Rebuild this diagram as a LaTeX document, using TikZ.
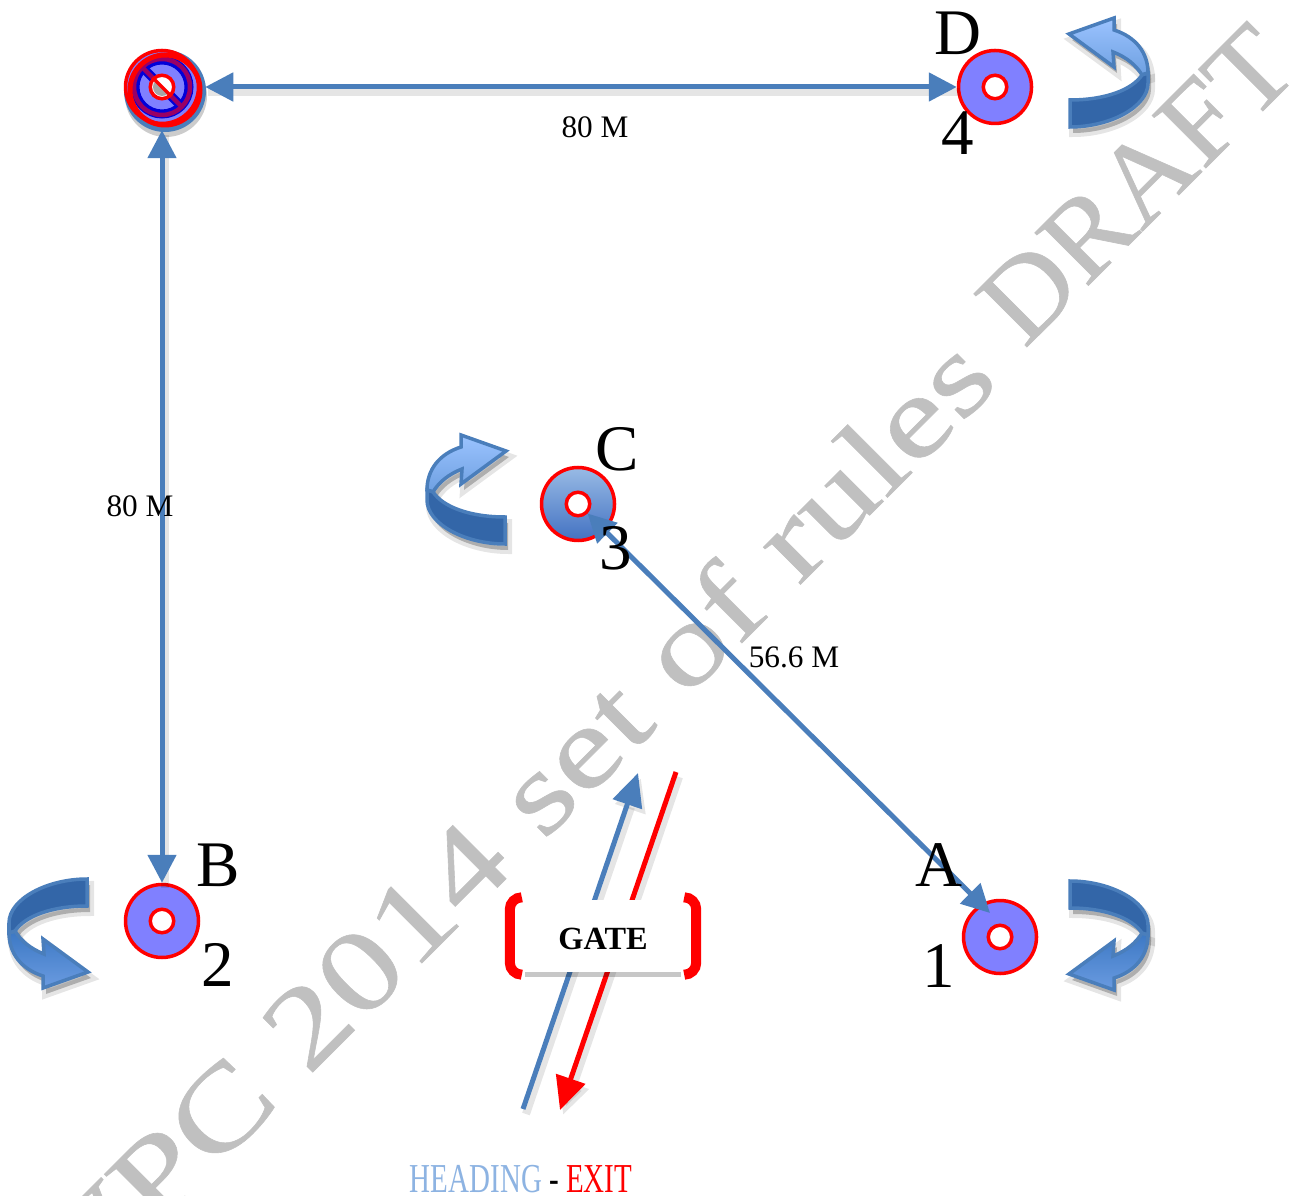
\documentclass[tikz,border=0pt]{standalone}
\usepackage{fontspec}
\setmainfont{Liberation Serif}
\newfontfamily\markfont[FakeStretch=1.285, FakeBold=0.5]{Liberation Serif}
\newfontfamily\markcaps[FakeStretch=1.04, FakeBold=0.5]{Liberation Serif}
\usepackage{tikz}
\usetikzlibrary{arrows.meta, positioning, calc}
\definecolor{linkblue}{RGB}{74, 126, 187}
\definecolor{discblue}{RGB}{128, 128, 255}
\definecolor{darkband}{RGB}{51, 102, 168}
\definecolor{headcol}{RGB}{141, 179, 226}
\definecolor{waterg}{RGB}{192, 192, 192}
\definecolor{bandhi}{RGB}{155, 195, 255}
\definecolor{bandmid}{RGB}{110, 160, 225}
\definecolor{bandlow}{RGB}{60, 120, 196}
\definecolor{bandsoft}{RGB}{106, 155, 224}
\newcommand{\turnlight}{(-0.01,0.41) -- (0.44,0.57) -- (0.44,0.45) .. controls (0.66,0.38) and (0.78,0.22) .. (0.78,0.02) -- (0.72,0) .. controls (0.66,0.10) and (0.56,0.18) .. (0.43,0.23) -- (0.44,0.08) -- cycle}
\newcommand{\turndark}{(0.72,0) -- (0.78,0.02) -- (0.78,-0.08) .. controls (0.78,-0.32) and (0.40,-0.52) .. (0,-0.52) -- (0,-0.25) .. controls (0.35,-0.25) and (0.62,-0.15) .. (0.72,0) -- cycle}
\tikzset{
  target/.style={circle, draw=red, fill=discblue, line width=0.035cm, minimum size=0.73cm, inner sep=0pt},
  hole/.style={circle, draw=red, fill=white, line width=0.035cm, minimum size=0.235cm, inner sep=0pt},
  biglabel/.style={font=\fontsize{18.5}{20}\selectfont, inner sep=0pt},
  distlabel/.style={font=\fontsize{8.9}{10}\selectfont, inner sep=0pt},
  marktext/.style={rotate=45, anchor=base east, text=waterg, inner sep=0pt},
  link/.style={draw=linkblue, line width=0.05cm},
  tipped/.style={-{Triangle[length=0.33cm,width=0.3cm]}},
  bothtips/.style={{Triangle[length=0.28cm,width=0.28cm]}-{Triangle[length=0.28cm,width=0.28cm]}},
  linkshadow/.style={draw=black, opacity=0.10, line width=0.08cm, transform canvas={shift={(0.03,-0.05)}}},
  pics/turnarrow/.style 2 args={code={
    \draw[draw=linkblue, line width=0.035cm, top color=#1, bottom color=#2] \turnlight;
    \draw[draw=linkblue, line width=0.035cm, fill=darkband] \turndark;
  }},
  pics/turnshade/.style={code={
    \draw[draw=black, fill=black, draw opacity=0.10, fill opacity=0.24, line width=0.08cm] \turnlight;
    \draw[draw=black, fill=black, draw opacity=0.10, fill opacity=0.24, line width=0.08cm] \turndark;
  }}
}

\begin{document}
\begin{tikzpicture}
  \useasboundingbox (0, 0) rectangle (13.09, 11.95);

  % Watermark
  \node[marktext, font=\fontsize{32.7}{34}\selectfont\markfont] (markA) at (10.02, 8.12) {WPC 2014 set of rules};
  \node[marktext, font=\fontsize{32.7}{34}\selectfont\markcaps] (markB) at (13.02, 11.23) {DRAFT};

  % Turn arrows
  \pic[xshift=0.03cm, yshift=-0.06cm] at (10.70, 11.20) {turnshade};
  \pic at (10.70, 11.20) {turnarrow={bandhi}{bandmid}};
  \pic[xshift=0.03cm, yshift=-0.06cm, xscale=-1] at (5.05, 7.03) {turnshade};
  \pic[xscale=-1] at (5.05, 7.03) {turnarrow={bandhi}{bandmid}};
  \pic[xshift=0.03cm, yshift=-0.06cm, yscale=-1] at (10.70, 2.62) {turnshade};
  \pic[yscale=-1] at (10.70, 2.62) {turnarrow={bandlow}{bandsoft}};
  \pic[xshift=0.03cm, yshift=-0.06cm, xscale=-1, yscale=-1] at (0.87, 2.64) {turnshade};
  \pic[xscale=-1, yscale=-1] at (0.87, 2.64) {turnarrow={bandlow}{bandsoft}};

  % Corner target, crossed out
  \fill[black, opacity=0.2] (1.66, 10.99) circle (0.41);
  \fill[linkblue] (1.65, 11.04) circle (0.41);
  \node[target] (tgtE) at (1.62, 11.08) {};
  \draw[blue!85!black, line width=0.09cm] (tgtE) circle (0.27);
  \draw[blue!85!black, line width=0.09cm] ($(tgtE)+(135:0.27)$) -- ($(tgtE)+(-45:0.27)$);
  \draw[violet!80!red, line width=0.045cm] (tgtE) circle (0.28);
  \draw[violet!80!red, line width=0.045cm] ($(tgtE)+(135:0.28)$) -- ($(tgtE)+(-45:0.28)$);
  \draw[red, line width=0.05cm] (1.65, 11.05) circle (0.35);
  \node[hole] (holeE) at (tgtE) {};
  \fill[gray!70] (1.62, 11.08) ++(135:0.09) -- ++(-45:0.18) arc (-45:-225:0.09) -- cycle;
  \draw[red, line width=0.035cm] ($(holeE)+(135:0.11)$) -- ($(holeE)+(-45:0.11)$);

  % Other targets
  \node[target] (tgtD) at (9.95, 11.08) {};
  \node[hole] (holeD) at (tgtD) {};
  \node[target, top color=headcol!90!white, bottom color=linkblue!90!blue] (tgtC) at (5.78, 6.91) {};
  \node[hole] (holeC) at (tgtC) {};
  \node[target] (tgtB) at (1.62, 2.74) {};
  \node[hole] (holeB) at (tgtB) {};
  \node[target] (tgtA) at (10.00, 2.58) {};
  \node[hole] (holeA) at (tgtA) {};
  \coordinate (tipA) at (9.90, 2.82);

  % Distances
  \draw[link, linkshadow, shorten <=0.05cm] (tgtE) -- (tgtD);
  \draw[link, linkshadow, shorten <=0.05cm] (tgtE) -- (tgtB);
  \draw[link, bothtips, shorten <=0.05cm] (tgtE) -- (tgtD);
  \draw[link, bothtips, shorten <=0.05cm] (tgtE) -- (tgtB);
  \draw[link, bothtips] (holeC) -- (tipA);

  \node[distlabel] (lblTop) at (5.95, 10.68) {80 M};
  \node[distlabel] (lblLeft) at (1.40, 6.89) {80 M};
  \node[distlabel] (lblDiag) at (7.94, 5.38) {56.6 M};

  % Target letters and numbers
  \node[biglabel] (nameD) at (9.58, 11.62) {D};
  \node[biglabel] (numD) at (9.58, 10.62) {4};
  \node[biglabel] (nameC) at (6.17, 7.46) {C};
  \node[biglabel] (numC) at (6.16, 6.47) {3};
  \node[biglabel] (nameB) at (2.18, 3.30) {B};
  \node[biglabel] (numB) at (2.18, 2.30) {2};
  \node[biglabel] (nameA) at (9.39, 3.30) {A};
  \node[biglabel] (numA) at (9.39, 2.29) {1};

  % Gate
  \coordinate (headS) at (5.23, 0.86);
  \coordinate (headE) at (6.38, 4.22);
  \coordinate (exitS) at (6.76, 4.23);
  \coordinate (exitE) at (5.60, 0.85);
  \draw[link, linkshadow, tipped] (headS) -- (headE);
  \draw[link, linkshadow, tipped] (exitS) -- (exitE);
  \draw[link, tipped] (headS) -- (headE);
  \draw[link, draw=red, fill=red, tipped] (exitS) -- (exitE);

  \fill[black, opacity=0.22] (5.25, 2.18) rectangle (6.81, 2.87);
  \node[fill=white, minimum width=1.61cm, minimum height=0.72cm, inner sep=0pt, text height=0.3cm, text depth=0.04cm, font=\fontsize{9.2}{10}\selectfont\bfseries] (gate) at (6.03, 2.59) {GATE};
  \draw[red, line width=0.1cm, rounded corners=0.12cm] ($(gate.north west)+(0,0.02)$) -| ($(gate.south west)+(-0.12,-0.02)$) -- ($(gate.south west)+(0,-0.02)$);
  \draw[red, line width=0.1cm, rounded corners=0.12cm] ($(gate.north east)+(0,0.02)$) -| ($(gate.south east)+(0.12,-0.02)$) -- ($(gate.south east)+(0,-0.02)$);

  \node[inner sep=0pt, xscale=0.705, transform shape, font=\fontsize{11.7}{13}\selectfont] (legend) at (5.21, 0.16) {\textcolor{headcol}{HEADING} - \textcolor{red}{EXIT}};
\end{tikzpicture}
\end{document}
